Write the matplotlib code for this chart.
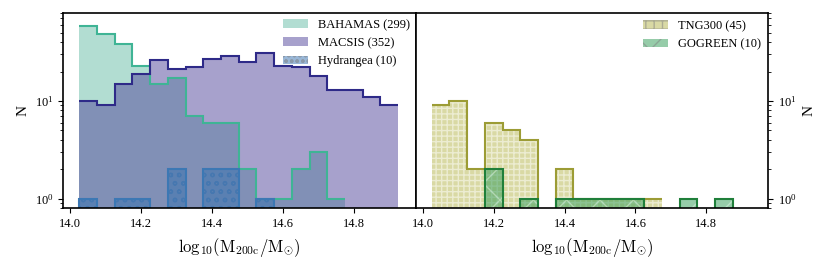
import numpy as np
import matplotlib
matplotlib.use("Agg")
import matplotlib.pyplot as plt
from matplotlib.patches import Patch

plt.rcParams['font.family'] = ['Liberation Serif', 'DejaVu Serif']
plt.rcParams['mathtext.fontset'] = 'cm'
plt.rcParams['font.size'] = 9
plt.rcParams['axes.linewidth'] = 1.2

# histogram counts, bins of width 0.05 dex starting at 14.025
bin_start = 14.025
bin_width = 0.05
bahamas = [58, 48, 38, 23, 15, 17, 7, 6, 6, 2, 1, 1, 2, 3, 1]
macsis = [10, 9, 15, 19, 26, 21, 22, 27, 29, 25, 31, 23, 22, 18, 13, 13, 11, 9]
hydrangea = [1, 0, 1, 1, 0, 2, 0, 2, 2, 0, 1]
tng300 = [9, 10, 2, 6, 5, 4, 0, 2, 1, 1, 1, 1, 1]
gogreen = [0, 0, 0, 2, 0, 1, 0, 1, 1, 1, 1, 1, 0, 0, 1, 0, 1]

labels_left = ['BAHAMAS (299)', 'MACSIS (352)', 'Hydrangea (10)']
labels_right = ['TNG300 (45)', 'GOGREEN (10)']


def edges(counts):
    return bin_start + bin_width * np.arange(len(counts) + 1)


fig, (ax1, ax2) = plt.subplots(1, 2, sharey=True, figsize=(8.3, 2.69), dpi=100)
fig.subplots_adjust(left=0.0763, right=0.9257, bottom=0.2257, top=0.953, wspace=0)

for ax in (ax1, ax2):
    ax.set_yscale('log')

# left panel
ax1.stairs(bahamas, edges(bahamas), fill=True, color='#67bda7', alpha=0.5, lw=0)
ax1.stairs(macsis, edges(macsis), fill=True, color='#51459b', alpha=0.5, lw=0)
ax1.stairs(hydrangea, edges(hydrangea), fill=True, facecolor='#3571b0', alpha=0.5,
           edgecolor='#3571b0', lw=0, hatch='oo')
ax1.stairs(bahamas, edges(bahamas), baseline=None, color='#3fb495', lw=1.5)
ax1.stairs(macsis, edges(macsis), baseline=None, color='#2e2a88', lw=1.5)
ax1.stairs(hydrangea, edges(hydrangea), color='#3c78b4', lw=1.5)

# right panel
ax2.stairs(tng300, edges(tng300), fill=True, facecolor='#b5b54a', alpha=0.5,
           edgecolor='white', lw=0, hatch='+++')
ax2.stairs(gogreen, edges(gogreen), fill=True, facecolor='#2e9a55', alpha=0.5,
           edgecolor='#e0f4e6', lw=0, hatch='x')
ax2.stairs(tng300, edges(tng300), baseline=None, color='#9c9c35', lw=1.5)
ax2.stairs(gogreen, edges(gogreen), color='#1f7f3a', lw=1.5)

ax1.set_ylim(0.8, 80)
for ax in (ax1, ax2):
    ax.set_xlim(13.98, 14.975)
    ax.set_xticks([14.0, 14.2, 14.4, 14.6, 14.8])
    ax.set_xlabel(r'$\mathrm{log_{10}(M_{200c}/M_{\odot})}$', fontsize=12)
    ax.set_ylabel('N', fontsize=11)

ax2.yaxis.tick_right()
ax2.yaxis.set_label_position('right')
ax2.tick_params(axis='y', which='both', left=False, labelleft=False,
                right=True, labelright=True)

h_left = [Patch(facecolor='#67bda7', alpha=0.5, lw=0),
          Patch(facecolor='#51459b', alpha=0.5, lw=0),
          Patch(facecolor='#3571b0', alpha=0.5, edgecolor='gray', lw=0, hatch='ooo')]
ax1.legend(h_left, labels_left, loc='upper right', frameon=False,
           borderaxespad=0.1, handlelength=2.0)
h_right = [Patch(facecolor='#b5b54a', alpha=0.5, edgecolor='gray', lw=0, hatch='++'),
           Patch(facecolor='#2e9a55', alpha=0.5, edgecolor='gray', lw=0, hatch='x')]
ax2.legend(h_right, labels_right, loc='upper right', frameon=False,
           borderaxespad=0.2, handlelength=2.0)

fig.savefig('out.png', dpi=100)
